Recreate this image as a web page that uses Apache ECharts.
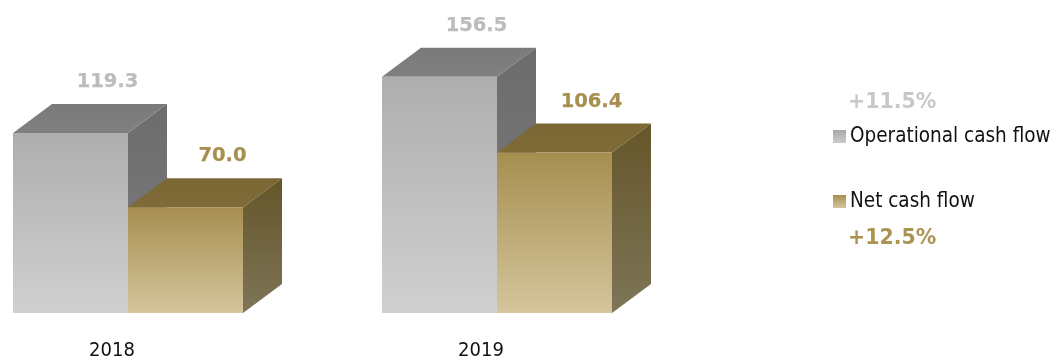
<!DOCTYPE html>
<html>
<head>
<meta charset="utf-8">
<style>html,body{margin:0;padding:0;background:#fff}#chart{width:1054px;height:360px}</style>
<script src="https://cdn.jsdelivr.net/npm/echarts@6/dist/echarts.min.js"></script>
</head>
<body>
<div id="chart"></div>
<script>
const years = ['2018', '2019'];
const operationalCashFlow = [119.3, 156.5];
const netCashFlow = [70.0, 106.4];
const operationalChange = '+11.5%';
const netChange = '+12.5%';

const FONT = '"DejaVu Sans Condensed", "DejaVu Sans", sans-serif';
const BOLD_FONT = '"DejaVu Sans", sans-serif';
const BAR_RATIO = 115 / 369;
const DEPTH_X = 39;
const DEPTH_Y = 29;

const vGrad = (a, b) => new echarts.graphic.LinearGradient(0, 0, 0, 1, [
  { offset: 0, color: a }, { offset: 1, color: b }
]);

const palette = {
  operational: {
    front: ['#aeaeae', '#d0d0d0'], top: ['#7a7a7a', '#808080'],
    side: ['#6c6c6c', '#7e7e7e'], label: '#bcbcbc'
  },
  net: {
    front: ['#a68e50', '#d4c59c'], top: ['#7a6733', '#7e6b37'],
    side: ['#65562a', '#7e7558'], label: '#a88f50'
  }
};

// Front, top and side faces of one extruded bar, plus its value above the block.
function blockRenderer(colors, side) {
  return function (params, api) {
    const [cx, yTop] = api.coord([api.value(0), api.value(1)]);
    const [, yBase] = api.coord([api.value(0), 0]);
    const w = api.size([1, 0])[0] * BAR_RATIO;
    const x0 = side < 0 ? cx - w : cx;
    const x1 = x0 + w;
    const poly = (points, fill) => ({
      type: 'polygon', shape: { points }, style: { fill }, silent: true
    });
    return {
      type: 'group',
      children: [
        poly([[x1, yTop], [x1 + DEPTH_X, yTop - DEPTH_Y], [x1 + DEPTH_X, yBase - DEPTH_Y], [x1, yBase]],
          vGrad(colors.side[0], colors.side[1])),
        poly([[x0, yTop], [x0 + DEPTH_X, yTop - DEPTH_Y], [x1 + DEPTH_X, yTop - DEPTH_Y], [x1, yTop]],
          vGrad(colors.top[0], colors.top[1])),
        poly([[x0, yTop], [x1, yTop], [x1, yBase], [x0, yBase]],
          vGrad(colors.front[0], colors.front[1])),
        {
          type: 'text',
          style: {
            x: (x0 + x1) / 2 + 37, y: yTop - 51,
            text: api.value(1).toFixed(1),
            fill: colors.label,
            stroke: colors.label,
            lineWidth: 0.25,
            font: 'bold 19.5px ' + BOLD_FONT,
            align: 'center', verticalAlign: 'middle'
          }
        }
      ]
    };
  };
}

const toRows = values => values.map((v, i) => [i, v]);

const chart = echarts.init(document.getElementById('chart'), null, { renderer: 'canvas' });
chart.setOption({
  animation: false,
  backgroundColor: '#fff',
  grid: { left: 128, width: 369, top: 11.2, bottom: 47, containLabel: false, outerBoundsMode: 'none' },
  xAxis: {
    type: 'category',
    boundaryGap: false,
    data: years,
    axisLine: { show: false },
    axisTick: { show: false },
    axisLabel: {
      color: '#111', fontFamily: FONT, fontSize: 20, margin: 28,
      padding: [0, 32, 0, 0], showMinLabel: true, showMaxLabel: true
    }
  },
  yAxis: { type: 'value', min: 0, max: 200, show: false },
  legend: {
    orient: 'vertical', left: 833, top: 126, padding: 0,
    icon: 'rect', itemWidth: 13, itemHeight: 13, itemGap: 44,
    itemStyle: { borderWidth: 0 },
    textStyle: { color: '#111', fontFamily: FONT, fontSize: 20.5, padding: [0, 0, 0, -1] },
    data: ['Operational cash flow', 'Net cash flow']
  },
  series: [
    {
      name: 'Operational cash flow', type: 'custom', data: toRows(operationalCashFlow),
      renderItem: blockRenderer(palette.operational, -1),
      itemStyle: { color: vGrad('#a8a8a8', '#cccccc') }
    },
    {
      name: 'Net cash flow', type: 'custom', data: toRows(netCashFlow),
      renderItem: blockRenderer(palette.net, 1),
      itemStyle: { color: vGrad('#a68e50', '#d4c59c') }
    }
  ],
  graphic: [
    { type: 'text', left: 848, top: 92, style: { text: operationalChange, fill: '#c8c8c8', font: 'bold 20.5px ' + BOLD_FONT } },
    { type: 'text', left: 848, top: 228, style: { text: netChange, fill: '#ab9352', font: 'bold 20.5px ' + BOLD_FONT } }
  ]
});
</script>
</body>
</html>
